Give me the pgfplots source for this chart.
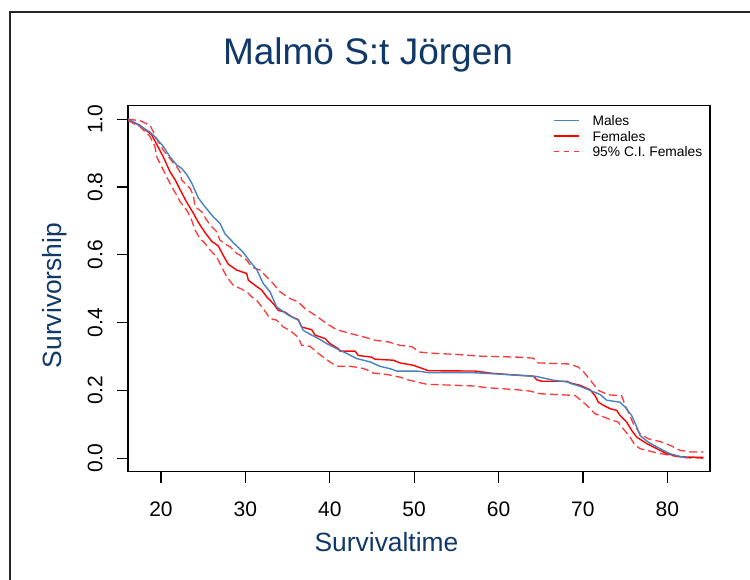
\documentclass[border=0pt]{standalone}
\usepackage{fontspec}
\setmainfont{Liberation Sans}
\usepackage{pgfplots}
\pgfplotsset{compat=1.18}

\definecolor{titleblue}{RGB}{16,56,104}
\definecolor{maleblue}{RGB}{70,130,190}
\definecolor{cired}{RGB}{255,55,55}

\begin{document}
\begin{tikzpicture}
\useasboundingbox (0,0) rectangle (375pt,289.5pt);
% outer frame (only left and top edges are visible)
\draw[line width=1pt, black!85] (5pt,-5pt) -- (5pt,283.4pt) -- (380pt,283.4pt);

\node[anchor=base, inner sep=0pt, text=titleblue, font=\fontsize{18.5}{22}\selectfont]
  at (184pt,257pt) {Malmö S:t Jörgen};

\begin{axis}[
  at={(64pt,53.65pt)}, anchor=south west,
  scale only axis, width=291pt, height=183pt,
  xmin=16.09, xmax=85.06, ymin=-0.04, ymax=1.04,
  xtick={20,30,40,50,60,70,80},
  ytick={0,0.2,0.4,0.6,0.8,1},
  yticklabel={\pgfmathprintnumber[fixed,fixed zerofill,precision=1]{\tick}},
  /pgf/number format/assume math mode=true,
  tick pos=left, tick align=outside, major tick length=5.6pt,
  axis line style={line width=0.6pt},
  tick style={line width=0.6pt, black},
  ticklabel style={font=\fontsize{10.5}{12}\selectfont},
  xticklabel style={anchor=north, inner sep=0pt},
  yticklabel style={rotate=90, anchor=south, inner sep=0pt},
  xticklabel shift=9.4pt,
  yticklabel shift=6.9pt,
  legend style={at={(0.7302,0.9727)}, anchor=north west, draw=none, fill=none,
    inner sep=0pt, outer sep=0pt, row sep=2.75pt, column sep=6.5pt,
    font=\fontsize{6.9}{8}\selectfont,
    nodes={inner sep=0pt, text height=5pt, text depth=0pt}},
  legend cell align=left,
  legend image code/.code={\draw[#1] (0pt,0pt) -- (12.5pt,0pt);},
]
\addlegendimage{maleblue, line width=0.7pt}
\addlegendentry{Males}
\addlegendimage{red, line width=0.7pt}
\addlegendentry{Females}
\addlegendimage{cired, line width=0.8pt, dash pattern=on 2.5pt off 2.5pt}
\addlegendentry{95\% C.I. Females}

% upper 95% CI, females
\addplot[forget plot, cired, line width=0.65pt, dash pattern=on 4pt off 2pt] coordinates {
(16.09,1.000) (17.51,0.996) (18.70,0.982) (19.09,0.963) (19.49,0.942)
(20.27,0.909) (21.46,0.871) (21.86,0.860) (22.25,0.845) (22.45,0.821)
(23.44,0.796) (23.83,0.776) (24.03,0.742) (24.82,0.727) (25.42,0.702)
(26.01,0.683) (26.60,0.668) (26.99,0.643) (27.79,0.629) (28.18,0.624)
(28.97,0.604) (29.36,0.599) (30.16,0.584) (30.75,0.564) (31.73,0.555)
(32.72,0.530) (33.31,0.515) (34.10,0.491) (35.29,0.471) (36.27,0.461)
(37.07,0.441) (38.25,0.422) (39.64,0.397) (40.82,0.379) (42.40,0.368)
(43.98,0.358) (45.36,0.348) (46.94,0.343) (48.32,0.333) (49.71,0.329)
(50.69,0.313) (51.88,0.310) (55.04,0.306) (57.81,0.301) (62.34,0.298)
(64.12,0.295) (64.71,0.281) (68.27,0.278) (69.45,0.269) (70.04,0.256)
(71.04,0.225) (71.82,0.200) (73.01,0.187) (74.60,0.184) (74.99,0.156)
(75.38,0.136) (75.97,0.102) (76.77,0.072) (77.75,0.057) (79.14,0.049)
(80.32,0.038) (81.51,0.023) (82.89,0.018) (84.27,0.018)
};
% lower 95% CI, females
\addplot[forget plot, cired, line width=0.65pt, dash pattern=on 4pt off 2pt] coordinates {
(16.09,0.996) (17.51,0.978) (18.70,0.949) (19.29,0.919) (19.49,0.889)
(20.08,0.860) (20.68,0.830) (21.27,0.801) (21.86,0.776) (22.25,0.757)
(23.05,0.732) (23.64,0.702) (24.03,0.673) (24.62,0.648) (25.21,0.634)
(25.81,0.614) (26.60,0.594) (27.19,0.564) (27.79,0.535) (28.57,0.510)
(29.36,0.501) (30.16,0.491) (30.75,0.476) (31.34,0.466) (32.12,0.441)
(32.92,0.412) (33.71,0.407) (34.49,0.387) (35.29,0.377) (36.27,0.356)
(36.67,0.333) (37.66,0.330) (38.64,0.309) (39.24,0.298) (40.03,0.284)
(40.82,0.271) (42.40,0.271) (43.58,0.267) (44.38,0.261) (45.16,0.251)
(46.75,0.247) (48.32,0.239) (49.12,0.232) (50.30,0.225) (51.49,0.218)
(57.01,0.213) (58.60,0.208) (62.15,0.202) (63.73,0.198) (64.92,0.190)
(69.06,0.185) (69.66,0.173) (70.45,0.156) (71.43,0.131) (72.03,0.126)
(73.21,0.114) (74.20,0.106) (74.60,0.092) (75.58,0.062) (76.18,0.038)
(76.77,0.028) (78.34,0.018) (80.32,0.008) (82.30,0.001) (84.27,0.000)
};
% females
\addplot[forget plot, red, line width=0.7pt] coordinates {
(16.09,1.000) (17.51,0.982) (18.90,0.954) (19.68,0.917) (20.27,0.889)
(21.07,0.845) (21.66,0.822) (22.25,0.793) (23.05,0.755) (23.83,0.723)
(24.42,0.696) (25.21,0.666) (26.01,0.640) (26.79,0.626) (27.38,0.598)
(27.98,0.572) (28.97,0.555) (30.16,0.545) (30.35,0.525) (31.14,0.510)
(31.93,0.496) (32.53,0.476) (33.31,0.456) (33.90,0.436) (34.70,0.431)
(35.49,0.417) (36.27,0.409) (36.67,0.387) (37.86,0.379) (38.25,0.363)
(39.44,0.353) (40.03,0.338) (41.01,0.323) (41.21,0.316) (42.99,0.316)
(43.38,0.303) (44.97,0.298) (45.36,0.292) (47.53,0.289) (48.32,0.281)
(49.90,0.274) (50.69,0.267) (51.68,0.258) (57.21,0.257) (58.99,0.251)
(61.56,0.246) (64.12,0.242) (64.56,0.231) (65.12,0.227) (68.08,0.227)
(68.47,0.222) (69.66,0.215) (70.84,0.202) (71.43,0.185) (71.83,0.165)
(72.42,0.156) (73.21,0.146) (74.01,0.141) (74.40,0.126) (75.19,0.106)
(75.78,0.082) (76.38,0.062) (77.56,0.043) (78.75,0.028) (79.93,0.013)
(81.51,0.004) (84.27,0.002)
};
% males
\addplot[forget plot, maleblue, line width=0.7pt] coordinates {
(16.09,1.000) (17.51,0.980) (18.70,0.962) (19.29,0.948) (20.27,0.920)
(21.07,0.889) (21.86,0.865) (22.45,0.855) (23.05,0.837) (23.64,0.812)
(24.42,0.768) (25.21,0.742) (26.20,0.712) (26.99,0.693) (27.58,0.662)
(28.57,0.636) (29.75,0.607) (30.55,0.580) (31.34,0.557) (32.12,0.515)
(32.92,0.491) (33.71,0.446) (34.30,0.436) (35.09,0.422) (36.27,0.407)
(36.86,0.377) (37.86,0.363) (38.64,0.353) (39.64,0.338) (40.82,0.323)
(42.01,0.309) (43.19,0.294) (44.77,0.284) (45.95,0.271) (47.14,0.264)
(47.93,0.257) (50.30,0.257) (51.88,0.252) (57.01,0.252) (59.38,0.249)
(61.36,0.246) (64.52,0.241) (66.49,0.230) (68.08,0.225) (68.86,0.218)
(69.66,0.212) (70.84,0.200) (72.03,0.188) (72.82,0.171) (74.40,0.165)
(74.99,0.151) (75.78,0.126) (76.38,0.092) (76.77,0.067) (77.75,0.047)
(79.14,0.028) (80.32,0.013) (81.51,0.005) (82.49,0.001)
};
\end{axis}

\node[anchor=base, inner sep=0pt, text=titleblue, font=\fontsize{13.2}{16}\selectfont]
  at (193.25pt,13.65pt) {Survivaltime};
\node[anchor=base, rotate=90, inner sep=0pt, text=titleblue, font=\fontsize{13.2}{16}\selectfont]
  at (30.75pt,141.75pt) {Survivorship};
\end{tikzpicture}
\end{document}
